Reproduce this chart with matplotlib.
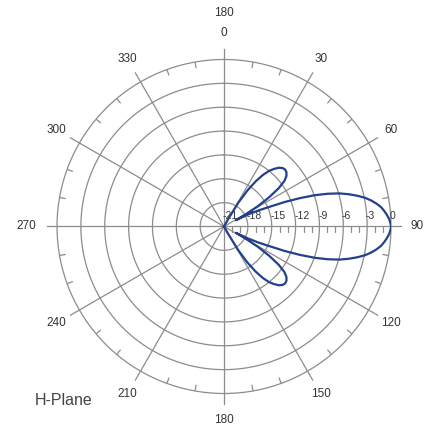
import numpy as np
import matplotlib
matplotlib.use("Agg")
import matplotlib.pyplot as plt

# H-plane pattern, upper half (deg clockwise from north, dB); lower half is its mirror
pattern_deg = [0, 27, 29, 31, 33, 35, 37, 39, 41, 43, 45, 47, 49, 51, 53, 55, 57,
               59, 60.5, 62, 63.5, 65, 66.5, 68, 69.5, 71, 72.5, 74, 75.5, 77,
               78.5, 80, 81.5, 83, 84.5, 86, 87.5, 89, 90]
pattern_db = [-21, -21, -20.0, -17.5, -15.6, -14.1, -12.9, -12.0, -11.4, -10.9,
              -10.6, -10.5, -10.6, -10.9, -11.5, -12.6, -14.2, -16.0, -17.8, -19.3,
              -17.6, -16.2, -14.9, -12.8, -10.8, -8.9, -7.3, -5.9, -4.8, -3.8,
              -2.9, -2.2, -1.6, -1.1, -0.75, -0.45, -0.2, -0.05, 0]

ring_levels = [-21, -18, -15, -12, -9, -6, -3, 0]
spoke_deg = [0, 30, 60, 90, 120, 150, 180, 210, 240, 270, 300, 330]
rim_tick_deg = [d for d in range(0, 360, 10) if d % 30 != 0]
axis_tick_db = [v for v in range(-20, 0) if v % 3 != 0]

grid_col = "#8c8c8c"
curve_col = "#22408c"
text_col = "#333333"
rmin, rmax = -21, 0

fig = plt.figure(figsize=(4.29, 4.28), dpi=100)
fig.patch.set_facecolor("white")
ax = fig.add_axes([0.1329, 0.0806, 0.7786, 0.7804], projection="polar")
ax.set_theta_zero_location("N")
ax.set_theta_direction(-1)
ax.set_ylim(rmin, rmax)
ax.set_xticks([])
ax.set_yticks([])
ax.grid(False)
ax.spines["polar"].set_color(grid_col)
ax.spines["polar"].set_linewidth(0.9)

# rings
circ = np.linspace(0, 2 * np.pi, 361)
for lv in ring_levels[1:-1]:
    ax.plot(circ, np.full_like(circ, lv), color=grid_col, lw=0.9, zorder=1)

# spokes, a little past the rim
for d in spoke_deg:
    ax.plot([np.radians(d)] * 2, [rmin, 1.3], color=grid_col, lw=0.9,
            clip_on=False, zorder=1)

# small ticks on the rim
for d in rim_tick_deg:
    ax.plot([np.radians(d)] * 2, [0, -0.7], color=grid_col, lw=0.9, zorder=1)

# ticks along the 90 deg axis
ax.plot(np.full(len(axis_tick_db), np.pi / 2), axis_tick_db, ls="none",
        marker=3, markersize=4, mew=0.9, color=grid_col, zorder=1)

# dB labels along the 90 deg axis
for lv in ring_levels:
    ax.annotate(str(lv), xy=(np.pi / 2, lv), xytext=(-1, 5.5),
                textcoords="offset points", ha="left", va="baseline",
                fontsize=7.5, family="Liberation Sans", color=text_col)

# angle labels
for d in spoke_deg:
    rr = 3.9 if d == 270 else 3.3
    ax.text(np.radians(d), rr, str(d), ha="center", va="center", fontsize=8.5,
            family="Liberation Sans", color=text_col, clip_on=False)
ax.text(0, 5.8, "180", ha="center", va="center", fontsize=8.5,
        family="Liberation Sans", color=text_col, clip_on=False)

# pattern
up_t = np.radians(pattern_deg)
up_r = np.array(pattern_db)
lo_t = np.radians(180 - np.array(pattern_deg[::-1]))
lo_r = up_r[::-1]
theta = np.concatenate([up_t, lo_t[1:]])
r = np.concatenate([up_r, lo_r[1:]])
ax.plot(theta, r, color=curve_col, lw=1.6, zorder=5)

fig.text(35 / 429, 1 - 405 / 428, "H-Plane", fontsize=11.5, family="Liberation Sans",
         color="#444444", ha="left", va="baseline")

fig.savefig("out.png", dpi=100)
